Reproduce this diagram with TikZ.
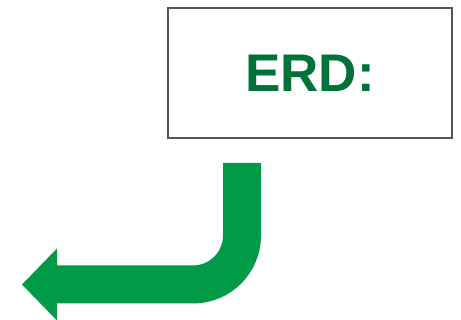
\documentclass[tikz,border=0pt]{standalone}
\usepackage{fontspec}
\setmainfont{Liberation Sans}
\usetikzlibrary{arrows.meta,positioning}
\definecolor{erdgreen}{RGB}{0,114,57}
\definecolor{arrowgreen}{RGB}{0,154,72}
\definecolor{boxgray}{RGB}{85,85,85}
\tikzstyle{title box}=[draw=boxgray, line width=2pt, fill=white, shape=rectangle,
        minimum width=284pt, minimum height=130pt, inner sep=0pt,
        font=\fontsize{53}{53}\selectfont\bfseries, text=erdgreen]
\tikzstyle{bent arrow}=[draw=arrowgreen, line width=38pt, rounded corners=49pt,
        -{Triangle[length=35pt, width=72pt, line width=0pt]}]

\begin{document}
\begin{tikzpicture}[x=1pt, y=-1pt]
    \useasboundingbox (0,0) rectangle (461,320);

    \node [style=title box] (erd) at (310, 73.5) {ERD:};

    \coordinate (top) at (242, 163);
    \coordinate (corner) at (242, 284.5);
    \coordinate (tip) at (22, 284.5);

    \draw [style=bent arrow] (top) -- (corner) -- (tip);
\end{tikzpicture}
\end{document}
